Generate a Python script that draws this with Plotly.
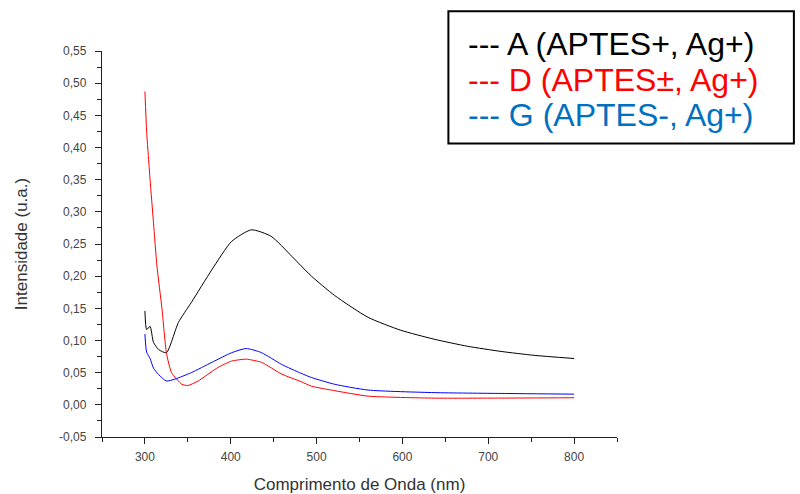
import plotly.graph_objects as go

# Wavelength (nm) and intensities (u.a.)
wl_A = [300, 302, 306, 310, 316, 325, 339, 354, 378, 401, 424, 447, 471, 482, 494, 521, 560, 598, 637, 676, 715, 753, 800]
int_A = [0.146, 0.117, 0.122, 0.097, 0.086, 0.081, 0.128, 0.159, 0.210, 0.254, 0.272, 0.262, 0.231, 0.216, 0.200, 0.170, 0.136, 0.116, 0.102, 0.091, 0.083, 0.077, 0.072]

wl_D = [300, 302, 306, 310, 314, 320, 325, 331, 343, 350, 362, 385, 401, 418, 436, 459, 482, 494, 521, 560, 637, 715, 800]
int_D = [0.487, 0.425, 0.350, 0.283, 0.216, 0.148, 0.081, 0.050, 0.032, 0.030, 0.037, 0.058, 0.068, 0.071, 0.066, 0.048, 0.036, 0.029, 0.022, 0.0135, 0.0104, 0.0105, 0.011]

wl_G = [300, 302, 306, 310, 316, 325, 335, 354, 378, 401, 418, 436, 459, 482, 494, 521, 560, 637, 715, 800]
int_G = [0.110, 0.082, 0.072, 0.057, 0.047, 0.037, 0.040, 0.050, 0.066, 0.081, 0.0875, 0.081, 0.063, 0.049, 0.0425, 0.032, 0.023, 0.019, 0.0177, 0.0166]

y_tickvals = [-0.05, 0.0, 0.05, 0.10, 0.15, 0.20, 0.25, 0.30, 0.35, 0.40, 0.45, 0.50, 0.55]
y_ticktext = ["-0,05", "0,00", "0,05", "0,10", "0,15", "0,20", "0,25", "0,30", "0,35", "0,40", "0,45", "0,50", "0,55"]

legend_labels = ["--- A (APTES+, Ag+)", "--- D (APTES\u00b1, Ag+)", "--- G (APTES-, Ag+)"]
legend_colors = ["#000000", "#ff0000", "#0070c0"]

fig = go.Figure()
fig.add_trace(go.Scatter(x=wl_A, y=int_A, mode="lines",
                         line=dict(color="#000000", width=1, shape="spline", smoothing=0.6), showlegend=False))
fig.add_trace(go.Scatter(x=wl_D, y=int_D, mode="lines",
                         line=dict(color="#ff0000", width=1, shape="spline", smoothing=0.5), showlegend=False))
fig.add_trace(go.Scatter(x=wl_G, y=int_G, mode="lines",
                         line=dict(color="#0000ff", width=1, shape="spline", smoothing=0.6), showlegend=False))

L, R, T, B = 101.7, 617.0, 50.7, 437.2
W, H = R - L, B - T

def px(x):
    return (x - L) / W

def py(y):
    return (B - y) / H

fig.add_shape(type="rect", xref="paper", yref="paper",
              x0=px(448.3), x1=px(794), y0=py(143.3), y1=py(11),
              line=dict(color="#000000", width=2), fillcolor="white")

for lab, col, yc in zip(legend_labels, legend_colors, [44.0, 79.5, 115.0]):
    fig.add_annotation(text=lab, xref="paper", yref="paper", x=px(466), y=py(yc),
                       xanchor="left", yanchor="middle", showarrow=False,
                       font=dict(family="Liberation Sans, Arial", size=32, color=col))

axis_common = dict(
    showgrid=False, zeroline=False, showline=True, linecolor="#222222", linewidth=1.3,
    ticks="outside", ticklen=6, tickwidth=1.2, tickcolor="#222222",
    tickfont=dict(family="Liberation Sans, Arial", size=12, color="#444444"),
    mirror=False, automargin=False,
)

fig.update_layout(
    width=800, height=494, autosize=False,
    margin=dict(l=L, r=800 - R, t=T, b=494 - B),
    paper_bgcolor="white", plot_bgcolor="white",
    separators=",.",
    xaxis=dict(range=[250, 850], tick0=300, dtick=100, ticklabelstandoff=2,
               minor=dict(dtick=50, ticks="outside", ticklen=4, tickcolor="#222222"),
               title=dict(text="Comprimento de Onda (nm)", standoff=16,
                          font=dict(family="Liberation Sans, Arial", size=17, color="#333333")),
               **axis_common),
    yaxis=dict(range=[-0.05, 0.55], tickmode="array", tickvals=y_tickvals, ticktext=y_ticktext,
               ticklabelstandoff=6,
               minor=dict(dtick=0.025, tick0=0, ticks="outside", ticklen=4, tickcolor="#222222"),
               title=dict(text="Intensidade (u.a.)", standoff=27,
                          font=dict(family="Liberation Sans, Arial", size=17, color="#333333")),
               **axis_common),
)

fig.write_html("out.html")
